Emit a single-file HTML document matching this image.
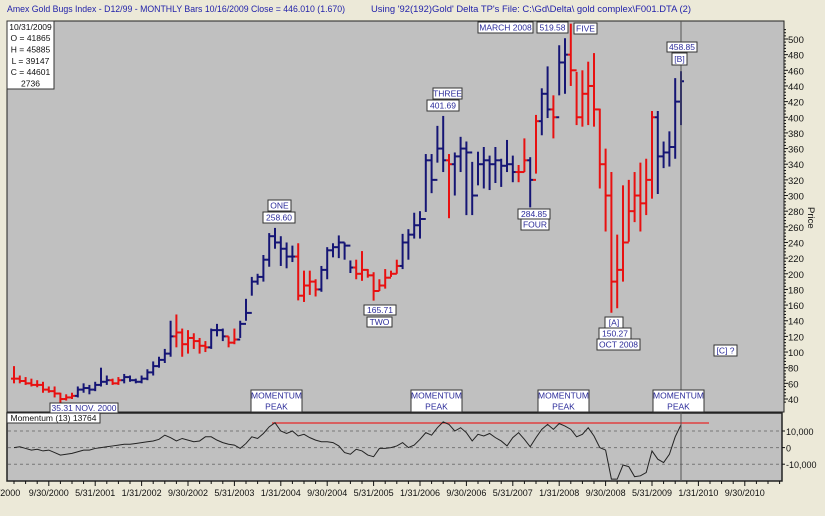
<!DOCTYPE html>
<html><head><meta charset="utf-8">
<style>
body{margin:0;width:825px;height:511px;background:#ece9d8;overflow:hidden;font-family:"Liberation Sans",Arial,sans-serif}
svg text{font-family:"Liberation Sans",Arial,sans-serif}
</style></head>
<body>
<svg id="chart" width="825" height="511" xmlns="http://www.w3.org/2000/svg">
<rect x="0" y="0" width="825" height="511" fill="#ece9d8"/>
<text x="7" y="12" font-size="9.5" fill="#2222aa" textLength="338" lengthAdjust="spacingAndGlyphs">Amex Gold Bugs Index - D12/99  - MONTHLY Bars  10/16/2009 Close = 446.010 (1.670)</text>
<text x="371" y="12" font-size="9.5" fill="#2222aa" textLength="320" lengthAdjust="spacingAndGlyphs">Using '92(192)Gold' Delta TP's    File: C:\Gd\Delta\ gold complex\F001.DTA (2)</text>
<rect x="7" y="21" width="777" height="391" fill="#c0c0c0" stroke="#222" stroke-width="1"/>
<rect x="7" y="413" width="775" height="68" fill="#c0c0c0" stroke="#222" stroke-width="1.5"/>
<g id="grid"></g>
<g id="bars"></g>
<g id="mom"></g>
<g id="axes"></g>
<g id="notes"></g>
</svg>
<script>
// month indices from Jan 2000 = 0
const months = [];
for (let m = 2; m <= 117; m++) months.push(m);
const highs = [82,70,68,66,64,62,56,56,48,46,48,56,60,58,62,80,70,66,68,72,70,66,70,78,88,94,104,140,148,130,128,124,118,114,130,136,130,120,130,140,168,196,200,224,252,258.6,248,240,236,239,204,204,193,210,234,239,249,240,217,218,229,206,202,193,206,204,218,251,257,278,280,353,353,389,401.69,353,355,375,369,343,356,362,351,362,347,371,351,339,373,349,403,437,465,428,492,501,519.58,458,460,471,482,411,360,330,250,313,320,330,342,347,408,408,369,382,450,458.85];
const lows = [60,60,58,56,55,48,48,42,35.31,38,40,42,48,46,50,56,58,58,58,60,62,60,60,64,70,80,86,94,106,94,98,104,98,100,104,120,114,106,110,118,140,172,186,190,209,232,210,207,215,166,164,173,171,177,193,221,220,218,201,193,191,195,165.71,178,181,196,200,206,218,245,245,279,303,342,330,271,300,330,275,275,313,309,307,316,311,330,317,317,330,284.85,328,377,399,373,428,430,440,390,388,390,388,309,254,150.27,156,190,241,266,254,275,296,302,335,337,347,390];
const closes = [66,63,60,58,58,52,50,47,40,42,44,52,54,52,58,62,64,60,64,68,64,62,66,74,82,90,98,120,125,110,118,114,108,106,128,128,120,112,116,136,150,190,196,218,248,240,232,222,222,172,185,190,180,205,230,234,240,236,208,200,205,198,178,185,195,200,210,240,250,262,270,345,320,360,345,340,350,360,355,300,340,345,340,345,338,340,330,330,345,320,395,430,410,400,470,480,460,400,430,440,410,340,300,190,205,240,280,300,290,320,400,350,355,362,420,446];
const colors = "rrrrrrrrrrrbbbbbbrrbbbbbbbbbrrrrrrbbbrrbbbbbbbbbbrrrrbbbbbbrrrrrrrrbbbbbbbbrbbbbbbbbbbbrrbrbbrbbrrrrrrrrrrrrrrrbbbbbb";
const momentum = [0,500,-500,-1500,-1000,-2000,-1500,-3000,-4500,-4000,-3500,-2500,-1500,-1500,-500,0,500,1000,1500,2000,2000,2500,3000,3500,4000,5000,7500,6000,4000,5500,4500,3500,4000,6500,6500,4500,3000,2000,1500,-500,2500,6500,5500,8500,12500,15000,10000,8500,10000,7000,8000,6000,4500,3500,3500,3000,1000,-3000,-4000,-1000,-2000,-4500,-5500,-500,-500,0,1000,3000,0,1500,5000,9000,7500,12000,15500,14000,10000,12000,9000,4000,8000,7000,8500,6000,4000,1000,6000,9000,5000,500,6000,11000,14000,11000,14500,13000,11000,6500,8000,12000,7000,0,-1500,-19000,-19000,-10500,-11500,-17500,-17000,-15000,-2000,-7000,-9000,-4000,6500,13764];
const priceTicks = [40,60,80,100,120,140,160,180,200,220,240,260,280,300,320,340,360,380,400,420,440,460,480,500];
const momTicks = [10000,0,-10000];
const momTickLabels = ["10,000","0","-10,000"];
const dateTickMonths = [8,16,24,32,40,48,56,64,72,80,88,96,104,112,120,128];
const dateTickLabels = ["9/30/2000","5/31/2001","1/31/2002","9/30/2002","5/31/2003","1/31/2004","9/30/2004","5/31/2005","1/31/2006","9/30/2006","5/31/2007","1/31/2008","9/30/2008","5/31/2009","1/31/2010","9/30/2010"];

const NS = "http://www.w3.org/2000/svg";
const X = m => 2.4 + 5.8 * m;
const Y = v => 39 + (500 - v) * 0.7826;
const MY = v => 447.6 - v * 0.00166;
function mk(tag, attrs, parent) {
  const e = document.createElementNS(NS, tag);
  for (const k in attrs) e.setAttribute(k, attrs[k]);
  parent.appendChild(e);
  return e;
}
const gBars = document.getElementById('bars');
months.forEach((m, i) => {
  const col = colors[i] === 'r' ? '#e81010' : '#151575';
  const x = X(m);
  const g = mk('g', {stroke: col, 'stroke-width': 2}, gBars);
  
  
  mk('line', {x1: x, x2: x, y1: Y(highs[i]), y2: Y(lows[i])}, g);
  const open = i > 0 ? closes[i - 1] : closes[i];
  mk('line', {x1: x - 3, x2: x, y1: Y(open), y2: Y(open)}, g);
  mk('line', {x1: x, x2: x + 3, y1: Y(closes[i]), y2: Y(closes[i])}, g);
});
const gMom = document.getElementById('mom');
const gGrid = document.getElementById('grid');
momTicks.forEach((t, i) => {
  const l = mk('line', {x1: 8, x2: 781, y1: MY(t), y2: MY(t), stroke: '#777', 'stroke-dasharray': '3,3', 'stroke-width': 1}, gGrid);
  
  
  const tx = mk('text', {x: 786, y: MY(t) + 4, 'font-size': 9, fill: '#111'}, gGrid);
  tx.textContent = momTickLabels[i];
  
  
  mk('line', {x1: 782, x2: 785, y1: MY(t), y2: MY(t), stroke: '#111'}, gGrid);
});
const rl = mk('line', {x1: 272, x2: 709, y1: 423, y2: 423, stroke: '#e04040', 'stroke-width': 1.5}, gMom);


const pl = mk('polyline', {points: months.map((m, i) => X(m) + ',' + MY(momentum[i])).join(' '), fill: 'none', stroke: '#222', 'stroke-width': 1}, gMom);


const gAx = document.getElementById('axes');
const vl = mk('line', {x1: 681, x2: 681, y1: 21, y2: 481, stroke: '#555', 'stroke-width': 1}, gAx);


for (let v = 36; v <= 512; v += 4) {
  mk('line', {x1: 784, x2: v % 20 === 0 ? 788 : 786, y1: Y(v), y2: Y(v), stroke: '#111', 'stroke-width': 1}, gAx);
}
priceTicks.forEach(t => {
  const tx = mk('text', {x: 788, y: Y(t) + 4, 'font-size': 9.5, fill: '#111'}, gAx);
  tx.textContent = t;
  
  
});
const pt = mk('text', {x: 0, y: 0, 'font-size': 9.5, fill: '#111', transform: 'translate(808,207) rotate(90)'}, gAx);
pt.textContent = 'Price';


for (let m = 0; m <= 134; m += 2) {
  const x = X(m);
  if (x < 8 || x > 782) continue;
  mk('line', {x1: x, x2: x, y1: 481, y2: m % 8 === 0 ? 486 : 484, stroke: '#111'}, gAx);
}
const fx = mk('text', {x: 9, y: 496, 'font-size': 9, fill: '#111', 'text-anchor': 'middle'}, gAx);
fx.textContent = '/2000';


dateTickMonths.forEach((m, i) => {
  const tx = mk('text', {x: X(m), y: 496, 'font-size': 9, fill: '#111', 'text-anchor': 'middle'}, gAx);
  tx.textContent = dateTickLabels[i];
  
  
});
const gN = document.getElementById('notes');
function box(x, y, w, h, lines, name, color) {
  const g = mk('g', {}, gN);
  
  
  mk('rect', {x: x, y: y, width: w, height: h, fill: '#fff', stroke: '#333', 'stroke-width': 1}, g);
  const lh = h / lines.length;
  lines.forEach((s, i) => {
    const t = mk('text', {x: x + w / 2, y: y + lh * i + lh / 2 + 3.2, 'font-size': 8.5, fill: color || '#2b2b9a', 'text-anchor': 'middle'}, g);
    t.textContent = s;
  });
}
box(50, 403, 68, 10, ['35.31 NOV. 2000'], 'low-2000-label');
box(251, 390, 51, 22, ['MOMENTUM', 'PEAK'], 'momentum-peak-label-1');
box(411, 390, 51, 22, ['MOMENTUM', 'PEAK'], 'momentum-peak-label-2');
box(538, 390, 51, 22, ['MOMENTUM', 'PEAK'], 'momentum-peak-label-3');
box(653, 390, 51, 22, ['MOMENTUM', 'PEAK'], 'momentum-peak-label-4');
box(268, 200, 23, 11, ['ONE'], 'wave-one-label');
box(263, 212, 32, 11, ['258.60'], 'wave-one-value');
box(433, 88, 29, 11, ['THREE'], 'wave-three-label');
box(427, 100, 32, 11, ['401.69'], 'wave-three-value');
box(364, 305, 32, 10, ['165.71'], 'wave-two-value');
box(367, 317, 25, 10, ['TWO'], 'wave-two-label');
box(478, 22, 55, 11, ['MARCH 2008'], 'march-2008-label');
box(537, 22, 31, 11, ['519.58'], 'wave-five-value');
box(574, 23, 23, 11, ['FIVE'], 'wave-five-label');
box(518, 209, 32, 10, ['284.85'], 'wave-four-value');
box(521, 219, 28, 11, ['FOUR'], 'wave-four-label');
box(605, 317, 18, 11, ['[A]'], 'wave-a-label');
box(599, 328, 32, 11, ['150.27'], 'wave-a-value');
box(597, 339, 43, 11, ['OCT 2008'], 'oct-2008-label');
box(667, 42, 30, 10, ['458.85'], 'wave-b-value');
box(672, 53, 15, 12, ['[B]'], 'wave-b-label');
box(714, 345, 23, 11, ['[C] ?'], 'wave-c-label');
box(7, 21, 47, 68, ['10/31/2009', 'O = 41865', 'H = 45885', 'L = 39147', 'C = 44601', '2736'], 'ohlc-info-box', '#111');
box(7, 413, 93, 10, ['Momentum (13)  13764'], 'momentum-legend', '#111');
</script>
</body></html>
